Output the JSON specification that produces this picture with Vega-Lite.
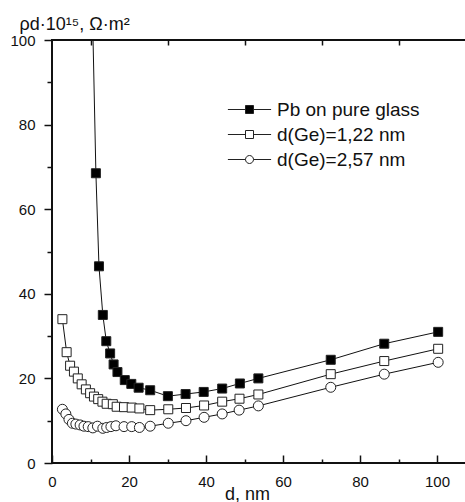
{
  "$schema": "https://vega.github.io/schema/vega-lite/v6.json",
  "width": 414,
  "height": 423,
  "autosize": {"type": "none"},
  "padding": {"left": 52, "top": 40, "right": 0, "bottom": 39},
  "background": "white",
  "config": {
    "view": {"stroke": "#111", "strokeWidth": 2},
    "font": "Liberation Sans",
    "axis": {"grid": false, "domainColor": "#111", "domainWidth": 2, "tickColor": "#111", "tickWidth": 1.5, "labelColor": "#111", "titleColor": "#111", "labelFont": "Liberation Sans", "titleFont": "Liberation Sans", "titleFontWeight": "normal", "labelFontSize": 15, "titleFontSize": 17}
  },
  "data": {"values": [
    {"s": "Pb on pure glass", "x": 10.2, "y": 120},
    {"s": "Pb on pure glass", "x": 11.4, "y": 68.5},
    {"s": "Pb on pure glass", "x": 12.2, "y": 46.5},
    {"s": "Pb on pure glass", "x": 13.2, "y": 35.0},
    {"s": "Pb on pure glass", "x": 14.1, "y": 28.8},
    {"s": "Pb on pure glass", "x": 15.1, "y": 25.9},
    {"s": "Pb on pure glass", "x": 16.0, "y": 23.3},
    {"s": "Pb on pure glass", "x": 17.0, "y": 21.5},
    {"s": "Pb on pure glass", "x": 18.9, "y": 19.6},
    {"s": "Pb on pure glass", "x": 20.6, "y": 18.7},
    {"s": "Pb on pure glass", "x": 22.5, "y": 17.8},
    {"s": "Pb on pure glass", "x": 25.5, "y": 17.2},
    {"s": "Pb on pure glass", "x": 30.1, "y": 15.8},
    {"s": "Pb on pure glass", "x": 34.7, "y": 16.3},
    {"s": "Pb on pure glass", "x": 39.4, "y": 16.8},
    {"s": "Pb on pure glass", "x": 44.2, "y": 17.6},
    {"s": "Pb on pure glass", "x": 48.8, "y": 18.8},
    {"s": "Pb on pure glass", "x": 53.6, "y": 20.0},
    {"s": "Pb on pure glass", "x": 72.4, "y": 24.4},
    {"s": "Pb on pure glass", "x": 86.3, "y": 28.2},
    {"s": "Pb on pure glass", "x": 100.3, "y": 31.0},
    {"s": "d(Ge)=1,22 nm", "x": 2.7, "y": 34.0},
    {"s": "d(Ge)=1,22 nm", "x": 3.8, "y": 26.2},
    {"s": "d(Ge)=1,22 nm", "x": 4.7, "y": 23.0},
    {"s": "d(Ge)=1,22 nm", "x": 5.7, "y": 21.6},
    {"s": "d(Ge)=1,22 nm", "x": 6.7, "y": 20.0},
    {"s": "d(Ge)=1,22 nm", "x": 7.7, "y": 18.6},
    {"s": "d(Ge)=1,22 nm", "x": 8.8, "y": 17.4},
    {"s": "d(Ge)=1,22 nm", "x": 9.9, "y": 16.5},
    {"s": "d(Ge)=1,22 nm", "x": 10.9, "y": 15.7},
    {"s": "d(Ge)=1,22 nm", "x": 12.0, "y": 15.1},
    {"s": "d(Ge)=1,22 nm", "x": 13.1, "y": 14.5},
    {"s": "d(Ge)=1,22 nm", "x": 14.2, "y": 14.0},
    {"s": "d(Ge)=1,22 nm", "x": 15.8, "y": 13.9},
    {"s": "d(Ge)=1,22 nm", "x": 16.8, "y": 13.3},
    {"s": "d(Ge)=1,22 nm", "x": 18.7, "y": 13.2},
    {"s": "d(Ge)=1,22 nm", "x": 20.7, "y": 13.1},
    {"s": "d(Ge)=1,22 nm", "x": 22.7, "y": 12.9},
    {"s": "d(Ge)=1,22 nm", "x": 25.5, "y": 12.5},
    {"s": "d(Ge)=1,22 nm", "x": 30.2, "y": 12.7},
    {"s": "d(Ge)=1,22 nm", "x": 34.8, "y": 13.0},
    {"s": "d(Ge)=1,22 nm", "x": 39.5, "y": 13.6},
    {"s": "d(Ge)=1,22 nm", "x": 44.2, "y": 14.5},
    {"s": "d(Ge)=1,22 nm", "x": 48.7, "y": 15.2},
    {"s": "d(Ge)=1,22 nm", "x": 53.6, "y": 16.2},
    {"s": "d(Ge)=1,22 nm", "x": 72.4, "y": 21.0},
    {"s": "d(Ge)=1,22 nm", "x": 86.3, "y": 24.1},
    {"s": "d(Ge)=1,22 nm", "x": 100.3, "y": 27.0},
    {"s": "d(Ge)=2,57 nm", "x": 2.7, "y": 12.7},
    {"s": "d(Ge)=2,57 nm", "x": 3.6, "y": 11.6},
    {"s": "d(Ge)=2,57 nm", "x": 4.4, "y": 10.3},
    {"s": "d(Ge)=2,57 nm", "x": 5.3, "y": 9.4},
    {"s": "d(Ge)=2,57 nm", "x": 6.2, "y": 9.2},
    {"s": "d(Ge)=2,57 nm", "x": 7.3, "y": 9.0},
    {"s": "d(Ge)=2,57 nm", "x": 8.3, "y": 8.7},
    {"s": "d(Ge)=2,57 nm", "x": 9.4, "y": 8.6},
    {"s": "d(Ge)=2,57 nm", "x": 10.6, "y": 8.3},
    {"s": "d(Ge)=2,57 nm", "x": 11.8, "y": 8.7},
    {"s": "d(Ge)=2,57 nm", "x": 13.2, "y": 8.2},
    {"s": "d(Ge)=2,57 nm", "x": 14.2, "y": 8.4},
    {"s": "d(Ge)=2,57 nm", "x": 15.3, "y": 8.6},
    {"s": "d(Ge)=2,57 nm", "x": 16.6, "y": 8.8},
    {"s": "d(Ge)=2,57 nm", "x": 18.7, "y": 8.6},
    {"s": "d(Ge)=2,57 nm", "x": 20.7, "y": 8.6},
    {"s": "d(Ge)=2,57 nm", "x": 22.7, "y": 8.4},
    {"s": "d(Ge)=2,57 nm", "x": 25.5, "y": 8.7},
    {"s": "d(Ge)=2,57 nm", "x": 30.2, "y": 9.4},
    {"s": "d(Ge)=2,57 nm", "x": 34.8, "y": 10.0},
    {"s": "d(Ge)=2,57 nm", "x": 39.5, "y": 10.8},
    {"s": "d(Ge)=2,57 nm", "x": 44.2, "y": 11.6},
    {"s": "d(Ge)=2,57 nm", "x": 48.6, "y": 12.5},
    {"s": "d(Ge)=2,57 nm", "x": 53.6, "y": 13.5},
    {"s": "d(Ge)=2,57 nm", "x": 72.4, "y": 17.9},
    {"s": "d(Ge)=2,57 nm", "x": 86.3, "y": 21.0},
    {"s": "d(Ge)=2,57 nm", "x": 100.3, "y": 23.8}
  ]},
  "resolve": {"axis": {"x": "independent", "y": "independent"}},
  "layer": [
    {
      "mark": {"type": "line", "color": "#111", "strokeWidth": 1, "clip": true},
      "encoding": {
        "x": {"field": "x", "type": "quantitative", "scale": {"domain": [0, 107.53], "nice": false, "zero": false},
          "axis": {"orient": "bottom", "values": [0, 20, 40, 60, 80, 100], "tickSize": -8, "domain": false,
            "labelPadding": 19, "labelFlush": false,
            "title": "d, nm", "titleFontSize": 18, "titleX": 195, "titleY": 36, "titleAlign": "center", "titleBaseline": "alphabetic"}},
        "y": {"field": "y", "type": "quantitative", "scale": {"domain": [0, 100], "nice": false}, "axis": null},
        "detail": {"field": "s"}
      }
    },
    {
      "transform": [{"filter": "datum.s != 'd(Ge)=2,57 nm'"}],
      "mark": {"type": "point", "shape": "square", "size": 81, "filled": true, "stroke": "#222", "strokeWidth": 1, "opacity": 1, "clip": true},
      "encoding": {
        "x": {"field": "x", "type": "quantitative",
          "axis": {"orient": "bottom", "values": [10, 30, 50, 70, 90], "labels": false, "domain": false, "tickSize": -4, "title": null}},
        "y": {"field": "y", "type": "quantitative",
          "axis": {"orient": "left", "values": [10, 30, 50, 70, 90], "labels": false, "domain": false, "tickSize": 5, "title": null}},
        "fill": {"field": "s", "type": "nominal",
          "scale": {"domain": ["Pb on pure glass", "d(Ge)=1,22 nm", "d(Ge)=2,57 nm"], "range": ["#000000", "#ffffff", "#ffffff"]}}
      }
    },
    {
      "transform": [{"filter": "datum.s == 'd(Ge)=2,57 nm'"}],
      "mark": {"type": "point", "shape": "circle", "size": 100, "filled": true, "stroke": "#222", "strokeWidth": 1, "opacity": 1, "clip": true},
      "encoding": {
        "x": {"field": "x", "type": "quantitative",
          "axis": {"orient": "top", "values": [10, 30, 50, 70, 90], "labels": false, "domain": false, "tickSize": -5, "title": null}},
        "y": {"field": "y", "type": "quantitative",
          "axis": {"orient": "left", "values": [0, 20, 40, 60, 80, 100], "tickSize": 8, "domain": false, "zindex": 1,
            "labelPadding": 9, "labelFlush": false,
            "title": "ρd·10¹⁵, Ω·m²", "titleFontSize": 18, "titleAngle": 0, "titleAlign": "left", "titleBaseline": "alphabetic", "titleX": -33, "titleY": -11}},
        "fill": {"field": "s", "type": "nominal"}
      }
    },
    {
      "transform": [{"filter": "datum.s == 'none'"}],
      "mark": {"type": "point", "filled": true, "stroke": "#222", "strokeWidth": 1, "opacity": 1},
      "encoding": {
        "x": {"field": "x", "type": "quantitative", "axis": null},
        "y": {"field": "y", "type": "quantitative", "axis": null},
        "fill": {"field": "s", "type": "nominal"},
        "shape": {"field": "s", "type": "nominal",
          "scale": {"domain": ["Pb on pure glass", "d(Ge)=1,22 nm", "d(Ge)=2,57 nm"],
            "range": ["M-5.4,0H-1M1,0H5.4M-1,-1H1V1H-1Z", "M-5.4,0H-1M1,0H5.4M-1,-1H1V1H-1Z", "M-5.4,0H-1M1,0H5.4M1,0A1,1 0 1 1 -1,0A1,1 0 1 1 1,0Z"]},
          "legend": {"title": null, "orient": "none", "legendX": 188, "legendY": 60, "padding": 0,
            "symbolSize": 64, "symbolStrokeWidth": 1,
            "labelFontSize": 19, "labelFont": "Liberation Sans", "labelColor": "#111", "labelOffset": 18, "rowPadding": 5}}
      }
    },
    {
      "mark": {"type": "rule", "color": "#111", "strokeWidth": 2},
      "encoding": {
        "x": {"datum": 0, "type": "quantitative", "axis": null},
        "y": {"datum": 0, "type": "quantitative", "axis": null},
        "y2": {"datum": 100}
      }
    }
  ]
}
